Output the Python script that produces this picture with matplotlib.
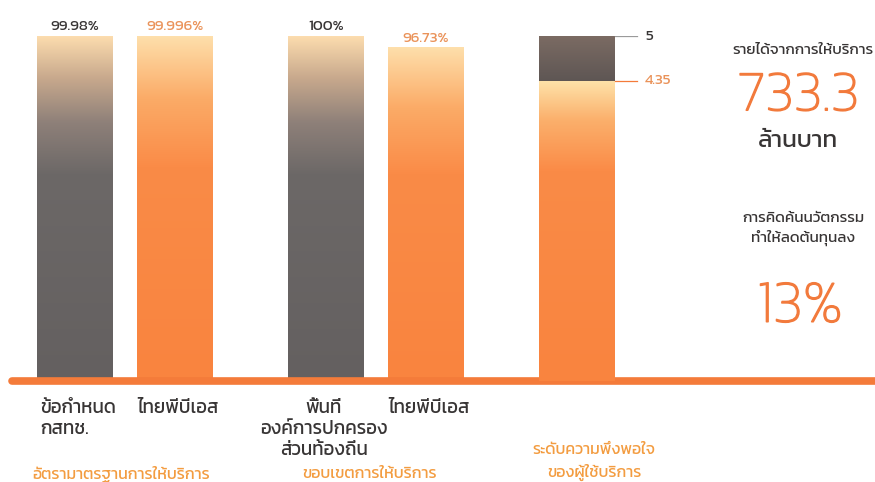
import numpy as np
import matplotlib
matplotlib.use("Agg")
import matplotlib.pyplot as plt
import matplotlib.patheffects as pe
from matplotlib import font_manager as fm
from matplotlib.ft2font import FT2Font
from matplotlib.colors import LinearSegmentedColormap

# ---------------- data ----------------
cat_labels = ["ข้อกำหนด\nกสทช.", "ไทยพีบีเอส",
              "พื้นที่\nองค์การปกครอง\nส่วนท้องถิ่น", "ไทยพีบีเอส"]
pct_values = [99.98, 99.996, 100.0, 96.73]
pct_texts = ["99.98%", "99.996%", "100%", "96.73%"]
group_labels = ["อัตรามาตรฐานการให้บริการ", "ขอบเขตการให้บริการ",
                "ระดับความพึงพอใจ\nของผู้ใช้บริการ"]
sat_max = 5
sat_value = 4.35
revenue_title = "รายได้จากการให้บริการ"
revenue_value = "733.3"
revenue_unit = "ล้านบาท"
cost_title = "การคิดค้นนวัตกรรม\nทำให้ลดต้นทุนลง"
cost_value = "13%"

# ---------------- fonts ----------------
thai_fams = []
for f in fm.fontManager.ttflist:
    try:
        cm = FT2Font(f.fname).get_charmap()
        if 0x0E01 in cm and 0x0E32 in cm and f.name not in thai_fams:
            thai_fams.append(f.name)
    except Exception:
        pass
pref = [p for p in ["Kanit", "Prompt", "Mitr", "Athiti", "Loma"] if p in thai_fams]
FAM = (pref[:1] if pref else thai_fams[:1]) + ["DejaVu Sans"]
plt.rcParams["font.family"] = FAM

DARK = "#383535"
ORANGE = "#f47b3a"
ORANGE_LT = "#ea935a"
ORANGE_GRP = "#f39c40"
BIG = "#f27a3c"

# ---------------- layout ----------------
W, H = 875, 482
fig = plt.figure(figsize=(W / 100, H / 100), dpi=100)
base_px, top_px = 381, 36
ax_pos = [0, 1 - base_px / H, 1, (base_px - top_px) / H]
ax1 = fig.add_axes(ax_pos)
ax2 = fig.add_axes(ax_pos)
for a in (ax1, ax2):
    a.set_axis_off()
    a.patch.set_alpha(0)

xpos = [0.75, 1.75, 3.26, 4.26]
xsat = 5.77
bw = 0.76

gray_cmap = LinearSegmentedColormap.from_list(
    "g", [(0, "#646060"), (0.6, "#6c6867"), (0.75, "#8e8079"), (0.88, "#c8a98d"),
          (1, "#fcdcae")])
orng_cmap = LinearSegmentedColormap.from_list(
    "o", [(0, "#f9843f"), (0.62, "#fa8b47"), (0.82, "#fbab67"), (1, "#fedfab")])
sat_cmap = LinearSegmentedColormap.from_list(
    "s", [(0, "#f9843f"), (0.7, "#fa8b47"), (0.87, "#fbb06c"), (1, "#fee3aa")])
dark_cmap = LinearSegmentedColormap.from_list("d", [(0, "#5e5654"), (1, "#7b6b63")])

grad = np.linspace(0, 1, 256).reshape(-1, 1)


def grad_fill(ax, rect, cmap, y0, y1):
    x0 = rect.get_x()
    w = rect.get_width()
    im = ax.imshow(grad, cmap=cmap, extent=[x0, x0 + w, y0, y1], origin="lower",
                   aspect="auto", zorder=2, interpolation="bilinear")
    im.set_clip_path(rect)


bars = ax1.bar(xpos, pct_values, width=bw, color="none", edgecolor="none", zorder=2)
cmaps = [gray_cmap, orng_cmap, gray_cmap, orng_cmap]
for r, cm_, v in zip(bars, cmaps, pct_values):
    grad_fill(ax1, r, cm_, 0, v)

label_cols = [DARK, ORANGE_LT, DARK, ORANGE_LT]
for x, v, t, c in zip(xpos, pct_values, pct_texts, label_cols):
    ax1.annotate(t, (x, v), xytext=(0, 2), textcoords="offset points",
                 ha="center", va="bottom", fontsize=11, color=c)

# satisfaction bar
sb_bg = ax2.bar([xsat], [sat_max], width=bw, color="none", edgecolor="none")[0]
grad_fill(ax2, sb_bg, dark_cmap, sat_value, sat_max)
sb = ax2.bar([xsat], [sat_value], width=bw, color="none", edgecolor="none")[0]
grad_fill(ax2, sb, sat_cmap, 0, sat_value)
xr = xsat + bw / 2
ax2.plot([xr, 6.37], [sat_max, sat_max], color="#9a9a9a", lw=0.9, zorder=3)
ax2.plot([xr, 6.37], [sat_value, sat_value], color=ORANGE, lw=0.9, zorder=3)
ax2.text(6.45, sat_max, str(sat_max), va="center", ha="left", fontsize=11,
         color=DARK)
ax2.text(6.45, sat_value, f"{sat_value:.2f}", va="center", ha="left", fontsize=11,
         color=ORANGE_LT)

# baseline
ax1.plot([0.12, 8.75], [0, 0], color=ORANGE, lw=5.5, solid_capstyle="round",
         zorder=4, clip_on=False)

for a, ymax in ((ax1, 100), (ax2, sat_max)):
    a.set_xlim(0, 8.75)
    a.set_ylim(0, ymax)

# category labels
cat_x = [0.40, 1.37, 3.24, 3.88]
cat_ha = ["left", "left", "center", "left"]
for x, t, ha in zip(cat_x, cat_labels, cat_ha):
    ax1.annotate(t, (x, 0), xytext=(0, -14), textcoords="offset points",
                 ha=ha, va="top", fontsize=13.5, color=DARK, linespacing=1.3,
                 multialignment=ha, annotation_clip=False)

# group labels (pixel positions)
grp_xy = [(121, 474), (370, 474), (594, 462)]
for (gx, gy), t in zip(grp_xy, group_labels):
    fig.text(gx / W, 1 - gy / H, t, ha="center", va="center", fontsize=11.5,
             color=ORANGE_GRP, linespacing=1.45)

# right panel
thick = [pe.withStroke(linewidth=1.1, foreground=BIG)]
fig.text(803 / W, 1 - 50 / H, revenue_title, ha="center", va="center", fontsize=11,
         color=DARK)
fig.text(798 / W, 1 - 97 / H, revenue_value, ha="center", va="center", fontsize=41,
         color=BIG, fontweight="light", path_effects=thick)
fig.text(798 / W, 1 - 141 / H, revenue_unit, ha="center", va="center", fontsize=17.5,
         color=DARK)
fig.text(803 / W, 1 - 229 / H, cost_title, ha="center", va="center", fontsize=11,
         color=DARK, linespacing=1.4)
fig.text(800 / W, 1 - 308 / H, cost_value, ha="center", va="center", fontsize=43,
         color=BIG, fontweight="light", path_effects=thick)

fig.savefig("out.png", dpi=100)
